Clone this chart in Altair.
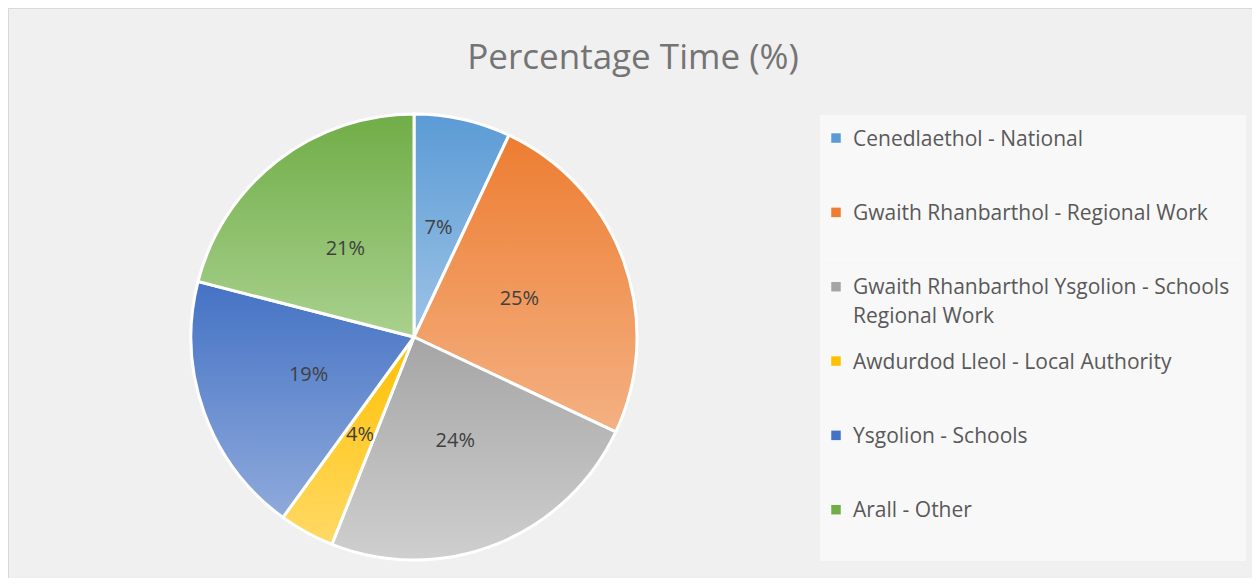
import altair as alt
import numpy as np
import pandas as pd

# ---- data ----
title_text = "Percentage Time (%)"
categories = [
    "Cenedlaethol - National",
    "Gwaith Rhanbarthol - Regional Work",
    "Gwaith Rhanbarthol Ysgolion - Schools Regional Work",
    "Awdurdod Lleol - Local Authority",
    "Ysgolion - Schools",
    "Arall - Other",
]
legend_text = [
    "Cenedlaethol - National",
    "Gwaith Rhanbarthol - Regional Work",
    "Gwaith Rhanbarthol Ysgolion - Schools\nRegional Work",
    "Awdurdod Lleol - Local Authority",
    "Ysgolion - Schools",
    "Arall - Other",
]
values = [7, 25, 24, 4, 19, 21]
top_colors = ["#5B9BD5", "#ED7D31", "#A5A5A5", "#FFC000", "#4472C4", "#70AD47"]
bottom_colors = ["#9DC3E6", "#F4B183", "#CFCFCF", "#FFD966", "#8FAADC", "#A9D18E"]

vals = np.array(values, dtype=float)
end = np.cumsum(vals)
start = end - vals
total = float(vals.sum())
df = pd.DataFrame({
    "cat": categories,
    "legend": legend_text,
    "value": values,
    "start": start,
    "end": end,
    "mid": (start + end) / 2,
    "label": [f"{v}%" for v in values],
})

FONT = "Open Sans"
W, H = 1244, 570
CX, CY, R = 406, 329, 223

theta_scale = alt.Scale(domain=[0, total])
base = alt.Chart(df)

arcs = []
for c, t, b in zip(categories, top_colors, bottom_colors):
    grad = alt.Gradient(
        gradient="linear",
        stops=[alt.GradientStop(color=t, offset=0), alt.GradientStop(color=b, offset=1)],
        x1=0, x2=0, y1=0, y2=1,
    )
    arcs.append(
        base.transform_filter(alt.datum.cat == c)
        .mark_arc(radius=R, fill=grad, stroke="white", strokeWidth=3)
        .encode(
            theta=alt.Theta("start:Q", scale=theta_scale, stack=None),
            theta2="end:Q",
            x=alt.value(CX),
            y=alt.value(CY),
        )
    )

labels = base.mark_text(radius=112, fontSize=20, color="#404040", font=FONT).encode(
    theta=alt.Theta("mid:Q", scale=theta_scale, stack=None),
    text="label:N",
    x=alt.value(CX),
    y=alt.value(CY),
)

yscale = alt.Scale(domain=categories, range=[107, 553], paddingInner=0, paddingOuter=0)

legend_box = base.mark_rect(fill="#f8f8f8", strokeWidth=0).encode(
    y=alt.Y("cat:N", scale=yscale, axis=None),
    x=alt.value(812),
    x2=alt.value(1238),
)

legend_sym = base.mark_square(size=90, opacity=1).encode(
    y=alt.Y("cat:N", scale=yscale, axis=None, bandPosition=0.31),
    x=alt.value(828),
    color=alt.Color("cat:N", scale=alt.Scale(domain=categories, range=top_colors), legend=None),
)

legend_lbl = base.mark_text(
    align="left", baseline="top", fontSize=21, lineBreak="\n", lineHeight=29,
    color="#595959", font=FONT,
).encode(
    y=alt.Y("cat:N", scale=yscale, axis=None, bandPosition=0.185),
    x=alt.value(845),
    text="legend:N",
)

title = alt.Chart(pd.DataFrame({"t": [title_text]})).mark_text(
    fontSize=35, font=FONT, color="#747474", align="center", baseline="alphabetic",
).encode(text="t:N", x=alt.value(625), y=alt.value(61))

chart = alt.layer(legend_box, *arcs, labels, legend_sym, legend_lbl, title).properties(
    width=W,
    height=H,
    autosize=alt.AutoSizeParams(type="none"),
    padding=0,
    background="#f0f0f0",
).configure_view(stroke="#d9d9d9", strokeWidth=1)

chart.save("out.html", embed_options={"renderer": "svg", "actions": False})
